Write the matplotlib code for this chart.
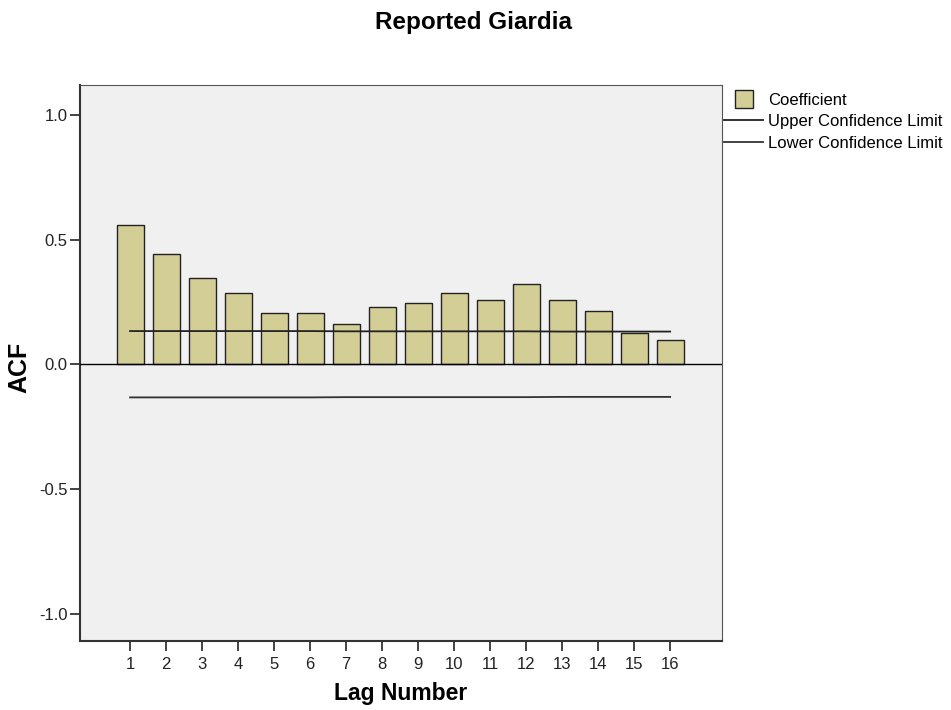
import numpy as np
import matplotlib.pyplot as plt
from matplotlib.lines import Line2D

plt.rcParams['font.family'] = ['Liberation Sans', 'DejaVu Sans']

lags = np.arange(1, 17)
acf = [0.560, 0.444, 0.344, 0.284, 0.204, 0.205, 0.163, 0.228,
       0.245, 0.285, 0.259, 0.323, 0.256, 0.213, 0.125, 0.096]
upper = [0.133, 0.133, 0.133, 0.133, 0.133, 0.133, 0.132, 0.132,
         0.132, 0.132, 0.132, 0.132, 0.131, 0.131, 0.131, 0.131]
lower = [-u for u in upper]

bar_color = '#d3ce96'

fig = plt.figure(figsize=(9.51, 7.10), dpi=100)
ax = fig.add_axes([0.0841, 0.0972, 0.6751, 0.7831])
ax.set_facecolor('#f0f0f0')

ax.bar(lags, acf, width=0.75, color=bar_color, edgecolor='#222222', linewidth=1.0, zorder=2)
ax.plot(lags, upper, color='#222222', linewidth=1.3, zorder=3)
ax.plot(lags, lower, color='#333333', linewidth=1.3, zorder=3)
ax.axhline(0, color='black', linewidth=1.0, zorder=3)

ax.set_xlim(-0.39, 17.44)
ax.set_ylim(-1.11, 1.12)
ax.set_xticks(lags)
ax.set_xticklabels([str(i) for i in lags])
ax.set_yticks([-1.0, -0.5, 0.0, 0.5, 1.0])
ax.set_yticklabels(['-1.0', '-0.5', '0.0', '0.5', '1.0'])
ax.tick_params(axis='both', direction='out', length=7.5, width=1.2, labelsize=12, colors='#222222')
ax.tick_params(axis='x', pad=4)
ax.tick_params(axis='y', pad=1.5)

for side in ['left', 'bottom']:
    ax.spines[side].set_linewidth(1.5)
    ax.spines[side].set_color('#333333')
for side in ['top', 'right']:
    ax.spines[side].set_linewidth(0.8)
    ax.spines[side].set_color('#555555')

ax.set_xlabel('Lag Number', fontsize=16.5, fontweight='bold')
ax.xaxis.set_label_coords(0.5, -0.0735)
ax.set_ylabel('ACF', fontsize=18, fontweight='bold')
ax.yaxis.set_label_coords(-0.076, 0.493)
fig.text(0.4975, 0.969, 'Reported Giardia', ha='center', va='center', fontsize=17.5, fontweight='bold')

handles = [Line2D([0], [0], linestyle='none', marker='s', markersize=13.5,
                  markerfacecolor=bar_color, markeredgecolor='#222222', markeredgewidth=1.0),
           Line2D([0], [0], color='#222222', linewidth=1.3),
           Line2D([0], [0], color='#333333', linewidth=1.3)]
labels = ['Coefficient', 'Upper Confidence Limit', 'Lower Confidence Limit']
fig.legend(handles, labels, loc='upper left', bbox_to_anchor=(0.760, 0.872),
           frameon=False, fontsize=12, handlelength=2.3, handletextpad=0.32,
           labelspacing=0.4, borderaxespad=0, borderpad=0.1)

fig.savefig('out.png', dpi=100)
